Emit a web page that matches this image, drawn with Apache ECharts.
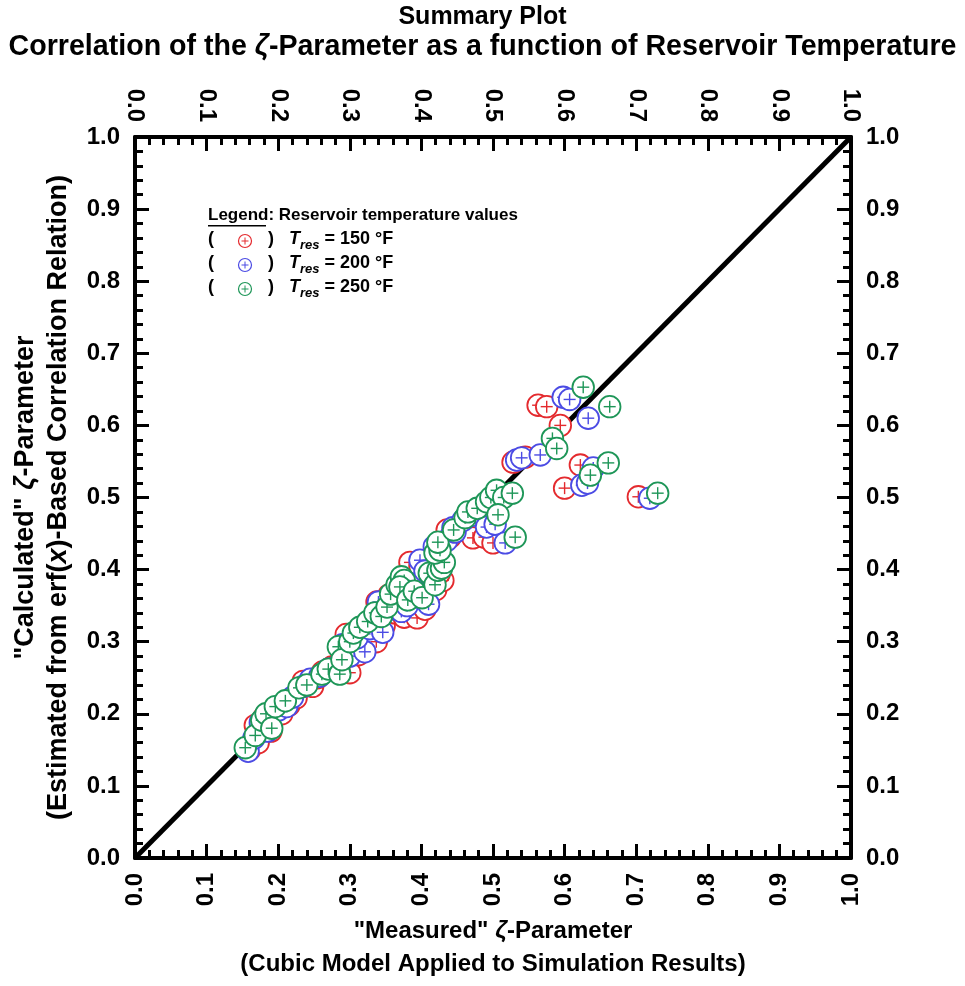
<!DOCTYPE html>
<html><head><meta charset="utf-8">
<script src="https://cdn.jsdelivr.net/npm/echarts@6/dist/echarts.min.js"></script>
<style>html,body{margin:0;padding:0;background:#fff}#c{width:965px;height:986px}</style>
</head><body><div id="c"></div>
<script>
// Tick labels
const tickValues = [0.0,0.1,0.2,0.3,0.4,0.5,0.6,0.7,0.8,0.9,1.0];
const legendLabels = ['150 °F','200 °F','250 °F'];
// Measured vs calculated zeta, Tres = 150 F
const red150 = [
 [0.160,0.150],[0.168,0.184],[0.172,0.160],[0.180,0.195],[0.190,0.176],[0.205,0.200],[0.215,0.212],
 [0.225,0.222],[0.235,0.245],[0.248,0.238],[0.255,0.250],[0.262,0.258],[0.275,0.265],[0.285,0.270],
 [0.300,0.257],[0.295,0.310],[0.305,0.295],[0.312,0.282],[0.320,0.290],[0.330,0.310],[0.337,0.300],
 [0.348,0.322],[0.338,0.355],[0.355,0.365],[0.363,0.340],[0.370,0.352],[0.376,0.334],[0.394,0.333],
 [0.405,0.345],[0.384,0.410],[0.398,0.405],[0.412,0.390],[0.420,0.372],[0.430,0.385],[0.425,0.395],
 [0.440,0.445],[0.436,0.455],[0.452,0.455],[0.465,0.465],[0.472,0.444],[0.488,0.445],[0.500,0.437],
 [0.528,0.549],[0.545,0.556],[0.563,0.628],[0.575,0.626],[0.594,0.600],[0.600,0.513],[0.622,0.545],
 [0.703,0.501]
];
// Tres = 200 F
const blue200 = [
 [0.158,0.148],[0.166,0.166],[0.175,0.188],[0.185,0.176],[0.200,0.205],[0.212,0.210],[0.220,0.223],
 [0.235,0.238],[0.245,0.248],[0.258,0.252],[0.270,0.262],[0.285,0.268],[0.290,0.296],[0.300,0.280],
 [0.321,0.286],[0.310,0.305],[0.328,0.318],[0.335,0.330],[0.346,0.313],[0.340,0.355],[0.356,0.345],
 [0.363,0.365],[0.372,0.342],[0.380,0.350],[0.386,0.380],[0.394,0.362],[0.410,0.352],[0.398,0.413],
 [0.405,0.398],[0.413,0.392],[0.425,0.415],[0.418,0.432],[0.435,0.440],[0.447,0.452],[0.444,0.458],
 [0.458,0.468],[0.470,0.475],[0.482,0.478],[0.491,0.459],[0.503,0.463],[0.496,0.488],[0.517,0.437],
 [0.533,0.552],[0.540,0.555],[0.566,0.559],[0.598,0.639],[0.607,0.636],[0.633,0.610],[0.640,0.541],
 [0.624,0.517],[0.632,0.520],[0.719,0.499]
];
// Tres = 250 F
const green250 = [
 [0.154,0.153],[0.168,0.170],[0.177,0.191],[0.183,0.200],[0.191,0.180],[0.196,0.210],[0.210,0.218],
 [0.229,0.236],[0.240,0.240],[0.261,0.255],[0.270,0.262],[0.286,0.255],[0.284,0.293],[0.289,0.275],
 [0.300,0.300],[0.305,0.312],[0.314,0.320],[0.325,0.328],[0.335,0.340],[0.344,0.335],[0.352,0.348],
 [0.357,0.366],[0.366,0.379],[0.372,0.390],[0.376,0.385],[0.370,0.376],[0.381,0.358],[0.390,0.370],
 [0.401,0.361],[0.411,0.395],[0.419,0.379],[0.423,0.399],[0.428,0.402],[0.432,0.410],[0.419,0.423],
 [0.426,0.427],[0.423,0.438],[0.445,0.455],[0.461,0.472],[0.465,0.480],[0.478,0.485],[0.491,0.494],
 [0.497,0.500],[0.505,0.510],[0.515,0.500],[0.527,0.506],[0.507,0.476],[0.531,0.445],[0.583,0.582],
 [0.589,0.568],[0.626,0.653],[0.663,0.626],[0.636,0.531],[0.661,0.548],[0.730,0.506]
];
const linePts = [[0,0],[1,1]];

const RED='#e42a2e', BLUE='#4b4be4', GREEN='#1e9658';
const FONT='"Liberation Sans", Arial';

function markerRender(color){
  return function(params, api){
    const p = api.coord([api.value(0), api.value(1)]);
    const r = 10.8, a = 6;
    return {type:'group', children:[
      {type:'circle', shape:{cx:p[0],cy:p[1],r:r}, style:{fill:'#fff',stroke:color,lineWidth:1.8}},
      {type:'line', shape:{x1:p[0]-a,y1:p[1],x2:p[0]+a,y2:p[1]}, style:{stroke:color,lineWidth:1.4}},
      {type:'line', shape:{x1:p[0],y1:p[1]-a,x2:p[0],y2:p[1]+a}, style:{stroke:color,lineWidth:1.4}}
    ]};
  };
}

function labelFmt(v){const t=tickValues.find(q=>Math.abs(q-v)<1e-6);return t===undefined?'':t.toFixed(1);}
function axisCommon(pos, labelExtra, extra){
  return Object.assign({
    type:'value', position:pos, min:0, max:1, interval:0.1,
    axisLine:{show:true, onZero:false, lineStyle:{color:'#000', width:4}},
    axisTick:{show:true, inside:true, length:14, lineStyle:{color:'#000', width:3}},
    minorTick:{show:true, splitNumber:5, length:8, lineStyle:{color:'#000', width:3}},
    splitLine:{show:false},
    axisLabel:Object.assign({color:'#000', fontFamily:FONT, fontWeight:'bold', fontSize:24, formatter:labelFmt}, labelExtra)
  }, extra||{});
}

const chart = echarts.init(document.getElementById('c'), null, {renderer:'canvas'});
const legendGraphics = [];
const lx = 208, ly0 = 217, dy = 24;
legendGraphics.push({type:'text', left:lx, top:ly0-10, style:{text:'Legend: Reservoir temperature values', font:'bold 17px '+FONT, fill:'#000'}});
legendGraphics.push({type:'rect', left:lx, top:ly0+8, shape:{width:58,height:1.6}, style:{fill:'#000'}});
const cols=[RED,BLUE,GREEN];
cols.forEach((c,i)=>{
  const y = ly0 + dy*(i+1);
  legendGraphics.push({type:'text', left:lx, top:y-11, style:{text:'(', font:'bold 18px '+FONT, fill:'#000'}});
  legendGraphics.push({type:'group', x:245, y:y, children:[
    {type:'circle', shape:{cx:0,cy:0,r:6.5}, style:{fill:'#fff',stroke:c,lineWidth:1.2}},
    {type:'line', shape:{x1:-3.5,y1:0,x2:3.5,y2:0}, style:{stroke:c,lineWidth:1}},
    {type:'line', shape:{x1:0,y1:-3.5,x2:0,y2:3.5}, style:{stroke:c,lineWidth:1}}
  ]});
  legendGraphics.push({type:'text', left:268, top:y-11, style:{text:')', font:'bold 18px '+FONT, fill:'#000'}});
  legendGraphics.push({type:'text', left:289, top:y-11, style:{
    text:'{t|T}{s|res}{n| = '+legendLabels[i]+'}',
    rich:{t:{font:'italic bold 18px '+FONT, fill:'#000'}, s:{font:'italic bold 13px '+FONT, fill:'#000', padding:[12,0,0,0]}, n:{font:'bold 18px '+FONT, fill:'#000'}}
  }});
});

const nameRich = {fontFamily:FONT, fontStyle:'italic', fontWeight:'bold', color:'#000'};
chart.setOption({
  animation:false,
  backgroundColor:'#fff',
  title:[
    {text:'Summary Plot', left:'center', top:0, textStyle:{fontFamily:FONT, fontWeight:'bold', fontSize:25, color:'#000'}},
    {text:'Correlation of the {z|ζ}-Parameter as a function of Reservoir Temperature', left:'center', top:28,
     textStyle:{fontFamily:FONT, fontWeight:'bold', fontSize:28.6, color:'#000',
       rich:{z:Object.assign({fontSize:28.6}, nameRich)}}}
  ],
  grid:{left:135, right:114, top:137, bottom:128, outerBoundsMode:'none', containLabel:false},
  xAxis:[
    axisCommon('bottom', {rotate:90, margin:15}, {
      name:'"Measured" {z|ζ}-Parameter\n(Cubic Model Applied to Simulation Results)',
      nameLocation:'middle', nameGap:57, nameMoveOverlap:false,
      nameTextStyle:{fontFamily:FONT, fontWeight:'bold', fontSize:24, color:'#000', lineHeight:33,
        rich:{z:Object.assign({fontSize:24}, nameRich)}}}),
    axisCommon('top', {rotate:90, margin:15})
  ],
  yAxis:[
    axisCommon('left', {margin:15}, {
      name:'"Calculated" {z|ζ}-Parameter\n(Estimated from erf({x|x})-Based Correlation Relation)',
      nameLocation:'middle', nameGap:60, nameRotate:90, nameMoveOverlap:false,
      nameTextStyle:{fontFamily:FONT, fontWeight:'bold', fontSize:27, color:'#000', lineHeight:33,
        rich:{z:Object.assign({fontSize:27}, nameRich), x:Object.assign({fontSize:27}, nameRich)}}}),
    axisCommon('right', {margin:15})
  ],
  series:[
    {type:'line', data:linePts, symbol:'none', lineStyle:{color:'#000', width:5}, z:1, silent:true},
    {type:'custom', name:'150', data:red150, renderItem:markerRender(RED), z:2},
    {type:'custom', name:'200', data:blue200, renderItem:markerRender(BLUE), z:3},
    {type:'custom', name:'250', data:green250, renderItem:markerRender(GREEN), z:4}
  ],
  graphic:legendGraphics
});
</script></body></html>
